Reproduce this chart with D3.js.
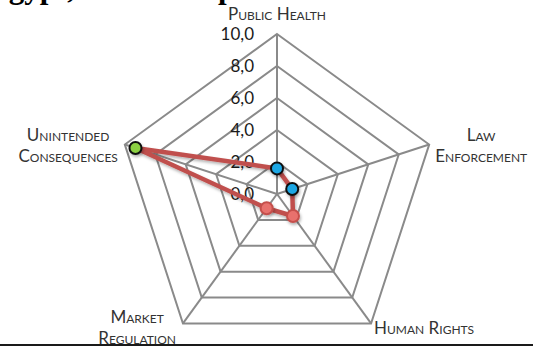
<!DOCTYPE html>
<html>
<head>
<meta charset="utf-8">
<script src="https://cdn.jsdelivr.net/npm/d3@7"></script>
<style>
  html, body { margin: 0; padding: 0; background: #fff; }
  svg { display: block; }
  .axis-label { font-family: Lato, "Open Sans", sans-serif; font-variant: small-caps; fill: #333; }
  .tick-label { font-family: Lato, "Open Sans", sans-serif; fill: #1a1a1a; }
</style>
</head>
<body>
<div id="chart"></div>
<script>
// axes of the radar, clockwise from the top
const axes = ["Public Health", "Law Enforcement", "Human Rights", "Market Regulation", "Unintended Consequences"];
const axisLines = [["Public Health"], ["Law", "Enforcement"], ["Human Rights"], ["Market", "Regulation"], ["Unintended", "Consequences"]];
const values = [1.6, 1.0, 1.7, 1.1, 9.3];
const markerColors = ["#1ea7e4", "#1ea7e4", "#e8716d", "#e8716d", "#8bd043"];
const markerStrokes = ["#111", "#111", "#c5504c", "#c5504c", "#111"];
const ticks = [0, 2, 4, 6, 8, 10];
const tickLabels = ["0,0", "2,0", "4,0", "6,0", "8,0", "10,0"];

const width = 533, height = 348;
const cx = 277, cy = 194, radius = 160;

const svg = d3.select("#chart").append("svg")
    .attr("width", width)
    .attr("height", height);

const defs = svg.append("defs");
const shadow = defs.append("filter").attr("id", "shadow")
    .attr("x", "-50%").attr("y", "-50%").attr("width", "200%").attr("height", "200%");
shadow.append("feDropShadow")
    .attr("dx", 1).attr("dy", 2).attr("stdDeviation", 1.5)
    .attr("flood-color", "#000").attr("flood-opacity", 0.3);

// title sits mostly above the frame, only the descenders show
svg.append("text")
    .attr("x", -12)
    .attr("y", -2)
    .attr("font-family", "Liberation Serif, serif")
    .attr("font-weight", "bold")
    .attr("font-size", 31)
    .attr("fill", "#000")
    .text("Egypt, Latest Map");

const r = d3.scaleLinear().domain([0, 10]).range([0, radius]);
const angle = d3.scalePoint().domain(axes).range([0, 2 * Math.PI * 4 / 5]);

const pt = (a, v) => [cx + r(v) * Math.sin(angle(a)), cy - r(v) * Math.cos(angle(a))];

const g = svg.append("g");

// rings
g.selectAll(".ring")
    .data(ticks.filter(t => t > 0))
    .enter()
    .append("polygon")
    .attr("class", "ring")
    .attr("points", t => axes.map(a => pt(a, t).join(",")).join(" "))
    .attr("fill", "none")
    .attr("stroke", "#8a8a8a")
    .attr("stroke-width", 2);

// spokes
g.selectAll(".spoke")
    .data(axes)
    .enter()
    .append("line")
    .attr("class", "spoke")
    .attr("x1", cx).attr("y1", cy)
    .attr("x2", a => pt(a, 10)[0])
    .attr("y2", a => pt(a, 10)[1])
    .attr("stroke", "#8a8a8a")
    .attr("stroke-width", 2);

// tick labels along the top spoke
g.selectAll(".tick-label")
    .data(ticks)
    .enter()
    .append("text")
    .attr("class", "tick-label")
    .attr("x", cx - 23)
    .attr("y", t => cy - r(t))
    .attr("dy", "0.36em")
    .attr("text-anchor", "end")
    .attr("font-size", 17)
    .text((t, i) => tickLabels[i]);

// axis labels
const lineH = 21;
axes.forEach((a, i) => {
    const [vx, vy] = pt(a, 10);
    const ux = Math.sin(angle(a)), uy = -Math.cos(angle(a));
    const lines = axisLines[i];
    const t = g.append("text").attr("class", "axis-label").attr("font-size", 17);
    lines.forEach(l => t.append("tspan").text(l));
    const widths = t.selectAll("tspan").nodes().map(n => n.getComputedTextLength());
    const maxW = d3.max(widths);
    let mx, midY;
    if (Math.abs(ux) < 0.1) {
        mx = vx;
        midY = vy - 19;
    } else if (ux > 0) {
        mx = vx + (lines.length > 1 ? 6 + maxW / 2 : 3 + maxW / 2);
        midY = vy + 3 + 3 * uy;
    } else {
        mx = vx - (lines.length > 1 ? 7 + maxW / 2 : 3 + maxW / 2);
        midY = vy + 3 + 3 * uy;
    }
    t.selectAll("tspan")
        .attr("x", mx)
        .attr("y", (d, j) => midY + 5 + (j - (lines.length - 1) / 2) * lineH)
        .attr("text-anchor", "middle");
});

// data line
const line = d3.line().curve(d3.curveLinearClosed);
g.append("path")
    .datum(axes.map((a, i) => pt(a, values[i])))
    .attr("d", line)
    .attr("fill", "none")
    .attr("stroke", "#c0504d")
    .attr("stroke-width", 4.5)
    .attr("stroke-linejoin", "round")
    .attr("filter", "url(#shadow)");

// markers
g.selectAll(".marker")
    .data(axes)
    .enter()
    .append("circle")
    .attr("class", "marker")
    .attr("cx", (a, i) => pt(a, values[i])[0])
    .attr("cy", (a, i) => pt(a, values[i])[1])
    .attr("r", 6)
    .attr("fill", (a, i) => markerColors[i])
    .attr("stroke", (a, i) => markerStrokes[i])
    .attr("stroke-width", 2)
    .attr("filter", "url(#shadow)");

// rule at the bottom
svg.append("rect")
    .attr("x", 0).attr("y", 344)
    .attr("width", width).attr("height", 2)
    .attr("fill", "#1a1a1a");
</script>
</body>
</html>
